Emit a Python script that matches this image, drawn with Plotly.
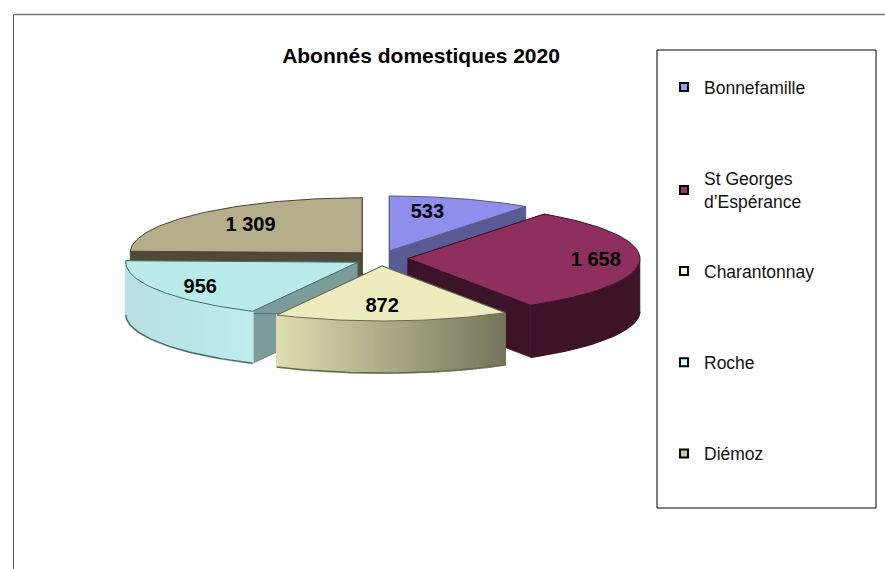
import numpy as np
import plotly.graph_objects as go

# Data
categories = ["Bonnefamille", "St Georges<br>d’Espérance", "Charantonnay", "Roche", "Diémoz"]
values = [533, 1658, 872, 956, 1309]
value_labels = ["533", "1 658", "872", "956", "1 309"]

# Style
legend_colors = ["#9999FF", "#993366", "#FFFFCC", "#CCFFFF", "#CCC7A5"]
legend_ids = ["legend", "legend", "legend2", "legend2", "legend2"]
top_colors = ["#8E8EEC", "#8E2F5F", "#ECECBE", "#BAEBEB", "#B5AE8A"]
face_colors = ["#5A5A94", "#3D1328", "#7A7A60", "#7C9C9C", "#50493A"]
wall_left = ["#5A5A94", "#3D1328", "#DEDCB0", "#B8E0E0", "#50493A"]
wall_right = ["#5A5A94", "#3D1328", "#74745C", "#BEECEC", "#50493A"]
rim_colors = ["#5A5A80", "#3A1228", "#6A6A50", "#4A6A6A", "#4A4435"]
draw_order = [4, 0, 3, 1, 2]
label_fx = [0.53, 0.81, 0.0, 0.79, 0.69]
label_fy = [0.72, 0.0, 0.75, 0.92, 0.68]
LABEL_DY = [0.0, 2.5, 0.0, 0.0, 0.0]

# Geometry of the projected pie (pixels)
CX, CY, RX, RY, DEPTH = 381.0, 258.3, 232.0, 55.0, 52.0
PULL_X, PULL_Y = 27.0, 7.7


def hex_rgb(h):
    return np.array([int(h[i:i + 2], 16) for i in (1, 3, 5)], float)


def lerp(a, b, t):
    c = hex_rgb(a) * (1 - t) + hex_rgb(b) * t
    return "rgb(%d,%d,%d)" % tuple(c.round())


total = sum(values)
edges = np.concatenate([[0], np.cumsum(values)]) / total * 360.0

fig = go.Figure()


def poly(xs, ys, fill, line=None, width=0.6):
    fig.add_trace(go.Scatter(
        x=list(xs), y=list(ys), mode="lines", fill="toself", fillcolor=fill,
        line=dict(color=line or fill, width=width), hoverinfo="skip", showlegend=False))


for i in draw_order:
    a0, a1 = edges[i], edges[i + 1]
    mid = np.radians((a0 + a1) / 2)
    ax = CX + PULL_X * np.sin(mid)
    ay = CY - PULL_Y * np.cos(mid)
    ang = np.radians(np.linspace(a0, a1, 60))
    rx = ax + RX * np.sin(ang)
    ry = ay - RY * np.cos(ang)

    # cut faces
    for k in (0, -1):
        poly([ax, rx[k], rx[k], ax, ax], [ay, ry[k], ry[k] + DEPTH, ay + DEPTH, ay],
             face_colors[i], rim_colors[i], 0.8)

    # outer wall
    vis = (np.degrees(ang) >= 90) & (np.degrees(ang) <= 270)
    idx = np.where(vis)[0]
    if len(idx) > 1:
        wx = np.r_[rx[idx], rx[idx][::-1], rx[idx][0]]
        wy = np.r_[ry[idx], ry[idx][::-1] + DEPTH, ry[idx][0]]
        poly(wx, wy, lerp(wall_left[i], wall_right[i], 0.5))
        if wall_left[i] != wall_right[i]:
            xmin, xmax = rx[idx].min(), rx[idx].max()
            for a, b in zip(idx[:-1], idx[1:]):
                t = float((0.5 * (rx[a] + rx[b]) - xmin) / max(xmax - xmin, 1))
                poly([rx[a], rx[b], rx[b], rx[a], rx[a]],
                     [ry[a], ry[b], ry[b] + DEPTH, ry[a] + DEPTH, ry[a]],
                     lerp(wall_left[i], wall_right[i], t), width=2)
        fig.add_trace(go.Scatter(
            x=list(rx[idx]), y=list(ry[idx] + DEPTH), mode="lines",
            line=dict(color=rim_colors[i], width=1.4), hoverinfo="skip", showlegend=False))

    # top surface
    poly(np.r_[ax, rx, ax], np.r_[ay, ry, ay], top_colors[i], rim_colors[i], 1.0)

# value labels
lx, ly = [], []
for i in range(len(values)):
    mid = np.radians((edges[i] + edges[i + 1]) / 2)
    ax = CX + PULL_X * np.sin(mid)
    ay = CY - PULL_Y * np.cos(mid)
    lx.append(ax + label_fx[i] * RX * np.sin(mid))
    ly.append(ay - label_fy[i] * RY * np.cos(mid) + LABEL_DY[i])
fig.add_trace(go.Scatter(
    x=lx, y=ly, mode="text", text=["<b>%s</b>" % s for s in value_labels],
    textposition="middle center",
    textfont=dict(family="Liberation Sans", size=20, color="black"),
    hoverinfo="skip", showlegend=False))

# legend entries
for name, col, lid in zip(categories, legend_colors, legend_ids):
    fig.add_trace(go.Scatter(
        x=[None], y=[None], mode="markers", name=name, legendgroup=name, legend=lid,
        marker=dict(symbol="square", size=8, color=col, line=dict(color="black", width=2))))

W, H = 885, 569
LEGEND_FONT = dict(family="Liberation Sans", size=17.5, color="#111111")
fig.update_layout(
    width=W, height=H, autosize=False,
    margin=dict(l=0, r=0, t=0, b=0),
    paper_bgcolor="white", plot_bgcolor="white",
    showlegend=True,
    xaxis=dict(range=[0, W], visible=False, fixedrange=True),
    yaxis=dict(range=[H, 0], visible=False, fixedrange=True),
    title=dict(text="<b>Abonnés domestiques 2020</b>", x=421 / W, xanchor="center",
               y=1 - 56 / H, yanchor="middle",
               font=dict(family="Liberation Sans", size=21, color="black")),
    legend=dict(x=664 / W, xanchor="left", y=1 - 69 / H, yanchor="top",
                bgcolor="rgba(0,0,0,0)", borderwidth=0,
                tracegroupgap=66, traceorder="grouped", font=LEGEND_FONT),
    legend2=dict(x=664 / W, xanchor="left", y=1 - 253 / H, yanchor="top",
                 bgcolor="rgba(0,0,0,0)", borderwidth=0,
                 tracegroupgap=65.5, traceorder="grouped", font=LEGEND_FONT),
    shapes=[
        dict(type="rect", xref="paper", yref="paper", x0=657 / W, x1=876 / W,
             y0=1 - 508 / H, y1=1 - 50 / H, line=dict(color="black", width=1), fillcolor="white", layer="below"),
        dict(type="line", xref="paper", yref="paper", x0=13.5 / W, x1=1,
             y0=1 - 14.5 / H, y1=1 - 14.5 / H, line=dict(color="#777777", width=1.5)),
        dict(type="line", xref="paper", yref="paper", x0=13.5 / W, x1=13.5 / W,
             y0=0, y1=1 - 14.5 / H, line=dict(color="#555555", width=1)),
    ],
)
fig.write_html("out.html", config=dict(displayModeBar=False),
               post_script="document.body.style.margin='0';document.body.style.overflow='hidden';")
